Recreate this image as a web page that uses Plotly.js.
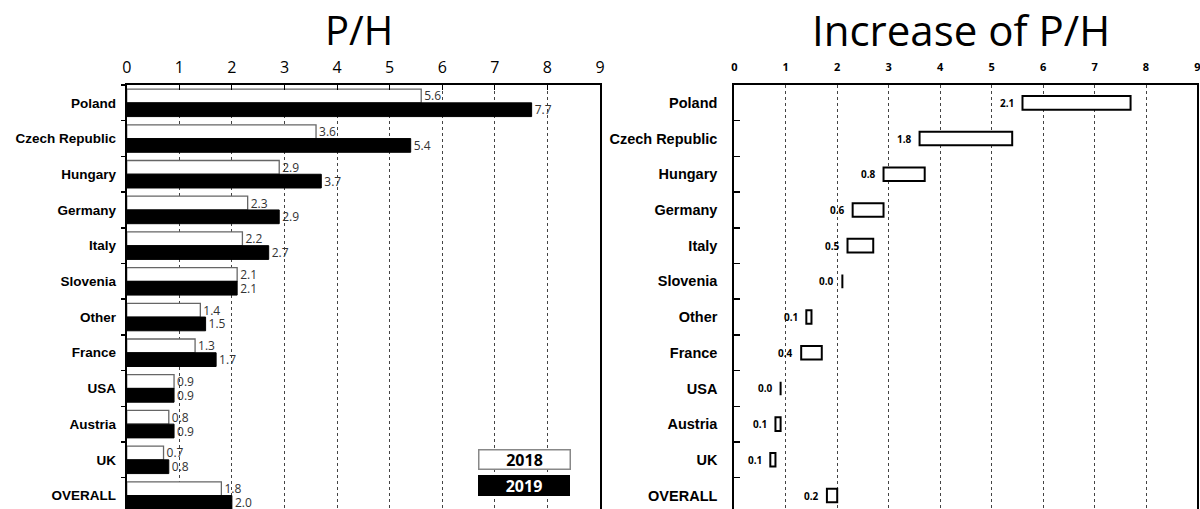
<!DOCTYPE html>
<html>
<head>
<meta charset="utf-8">
<script src="https://cdn.plot.ly/plotly-3.0.1.min.js"></script>
<style>html,body{margin:0;padding:0;background:#fff;overflow:hidden;}#chart{width:1200px;height:509px;}</style>
</head>
<body>
<div id="chart"></div>
<script>
var categories = ["Poland","Czech Republic","Hungary","Germany","Italy","Slovenia","Other","France","USA","Austria","UK","OVERALL"];
var ph2018 = [5.6,3.6,2.9,2.3,2.2,2.1,1.4,1.3,0.9,0.8,0.7,1.8];
var ph2019 = [7.7,5.4,3.7,2.9,2.7,2.1,1.5,1.7,0.9,0.9,0.8,2.0];
var increase = [2.1,1.8,0.8,0.6,0.5,0.0,0.1,0.4,0.0,0.1,0.1,0.2];
var xTicks = [0,1,2,3,4,5,6,7,8,9];
var seriesNames = ["2018","2019"];
var titles = ["P/H","Increase of P/H"];

var traces = [
  {type:"bar", orientation:"h", name:seriesNames[0], y:categories, x:ph2018,
   xaxis:"x", yaxis:"y",
   marker:{color:"#ffffff", line:{color:"#666666", width:1.3}},
   texttemplate:"%{x:.1f}", textposition:"outside", cliponaxis:false, constraintext:"none",
   textfont:{family:"Open Sans", size:12, color:"#333333"}, hoverinfo:"none"},
  {type:"bar", orientation:"h", name:seriesNames[1], y:categories, x:ph2019,
   xaxis:"x", yaxis:"y",
   marker:{color:"#000000", line:{color:"#000000", width:1}},
   texttemplate:"%{x:.1f}", textposition:"outside", cliponaxis:false, constraintext:"none",
   textfont:{family:"Open Sans", size:12, color:"#333333"}, hoverinfo:"none"},
  {type:"bar", orientation:"h", name:"increase", y:categories, x:increase, base:ph2018,
   xaxis:"x2", yaxis:"y2", width:0.38,
   marker:{color:"#ffffff", line:{color:"#000000", width:2}}, hoverinfo:"none"}
];

var yRange = [11.377, -0.5];

var annotations = [
  {text:titles[0], xref:"paper", yref:"paper", x:0.2989, y:1.132, xanchor:"center", yanchor:"middle", showarrow:false,
   font:{family:"Open Sans", size:40, color:"#000000"}},
  {text:titles[1], xref:"paper", yref:"paper", x:0.8006, y:1.132, xanchor:"center", yanchor:"middle", showarrow:false,
   font:{family:"Open Sans", size:42, color:"#000000"}},
  {text:"<b>"+seriesNames[0]+"</b>", xref:"paper", yref:"paper", x:0.4368, y:0.1167, xanchor:"center", yanchor:"middle",
   showarrow:false, width:90, height:18, bgcolor:"#ffffff", bordercolor:"#888888", borderwidth:1.5, borderpad:0,
   font:{family:"Open Sans", size:16, color:"#000000"}},
  {text:"<b>"+seriesNames[1]+"</b>", xref:"paper", yref:"paper", x:0.4368, y:0.0566, xanchor:"center", yanchor:"middle",
   showarrow:false, width:92, height:21, bgcolor:"#000000", bordercolor:"#000000", borderwidth:0, borderpad:0,
   font:{family:"Open Sans", size:16, color:"#ffffff"}}
];
categories.forEach(function(c, i){
  annotations.push({text:"<b>"+increase[i].toFixed(1)+"</b>", xref:"x2", yref:"y2", x:ph2018[i], y:c,
    xanchor:"right", yanchor:"middle", xshift:-6, showarrow:false,
    font:{family:"Open Sans", size:10, color:"#000000"}});
});

var layout = {
  width:1200, height:509,
  margin:{l:0, r:0, t:85, b:0, pad:0},
  paper_bgcolor:"#ffffff", plot_bgcolor:"#ffffff",
  showlegend:false,
  barmode:"group", bargap:0.23, bargroupgap:0,
  xaxis:{domain:[0.1056,0.5], range:[0,9], side:"top", tickvals:xTicks, ticktext:xTicks.map(String),
    showline:true, linecolor:"#000000", linewidth:2, ticks:"inside", ticklen:5, tickcolor:"#000000", tickwidth:1,
    showgrid:true, gridcolor:"#444444", gridwidth:1, griddash:"3px,3px", zeroline:false,
    tickfont:{family:"Open Sans", size:16, color:"#000000"}, ticklabelstandoff:4, ticklabeloverflow:"allow", fixedrange:true},
  yaxis:{domain:[0,1], range:yRange, type:"category", showline:true, mirror:true, linecolor:"#000000", linewidth:2,
    ticks:"outside", tickson:"boundaries", ticklen:4, tickwidth:1.5, tickcolor:"#000000", showgrid:false, zeroline:false,
    tickfont:{family:"Liberation Sans", size:13.5, color:"#000000", weight:"bold"}, ticklabelstandoff:6, fixedrange:true},
  xaxis2:{domain:[0.6119,0.9979], range:[0,9], side:"top", anchor:"y2", tickvals:xTicks, ticktext:xTicks.map(String),
    showline:true, linecolor:"#000000", linewidth:2, ticks:"",
    showgrid:true, gridcolor:"#444444", gridwidth:1, griddash:"3px,3px", zeroline:false,
    tickfont:{family:"Open Sans", size:11, color:"#000000", weight:"bold"}, ticklabelstandoff:8, ticklabeloverflow:"allow", fixedrange:true},
  yaxis2:{domain:[0,1], range:yRange, type:"category", anchor:"x2", showline:true, mirror:true, linecolor:"#000000", linewidth:2,
    ticks:"inside", tickson:"boundaries", ticklen:6, tickwidth:1.5, tickcolor:"#000000", showgrid:false, zeroline:false,
    tickfont:{family:"Liberation Sans", size:14.5, color:"#000000", weight:"bold"}, ticklabelstandoff:12, fixedrange:true},
  annotations:annotations
};

Plotly.newPlot("chart", traces, layout, {displayModeBar:false, staticPlot:true});
</script>
</body>
</html>
